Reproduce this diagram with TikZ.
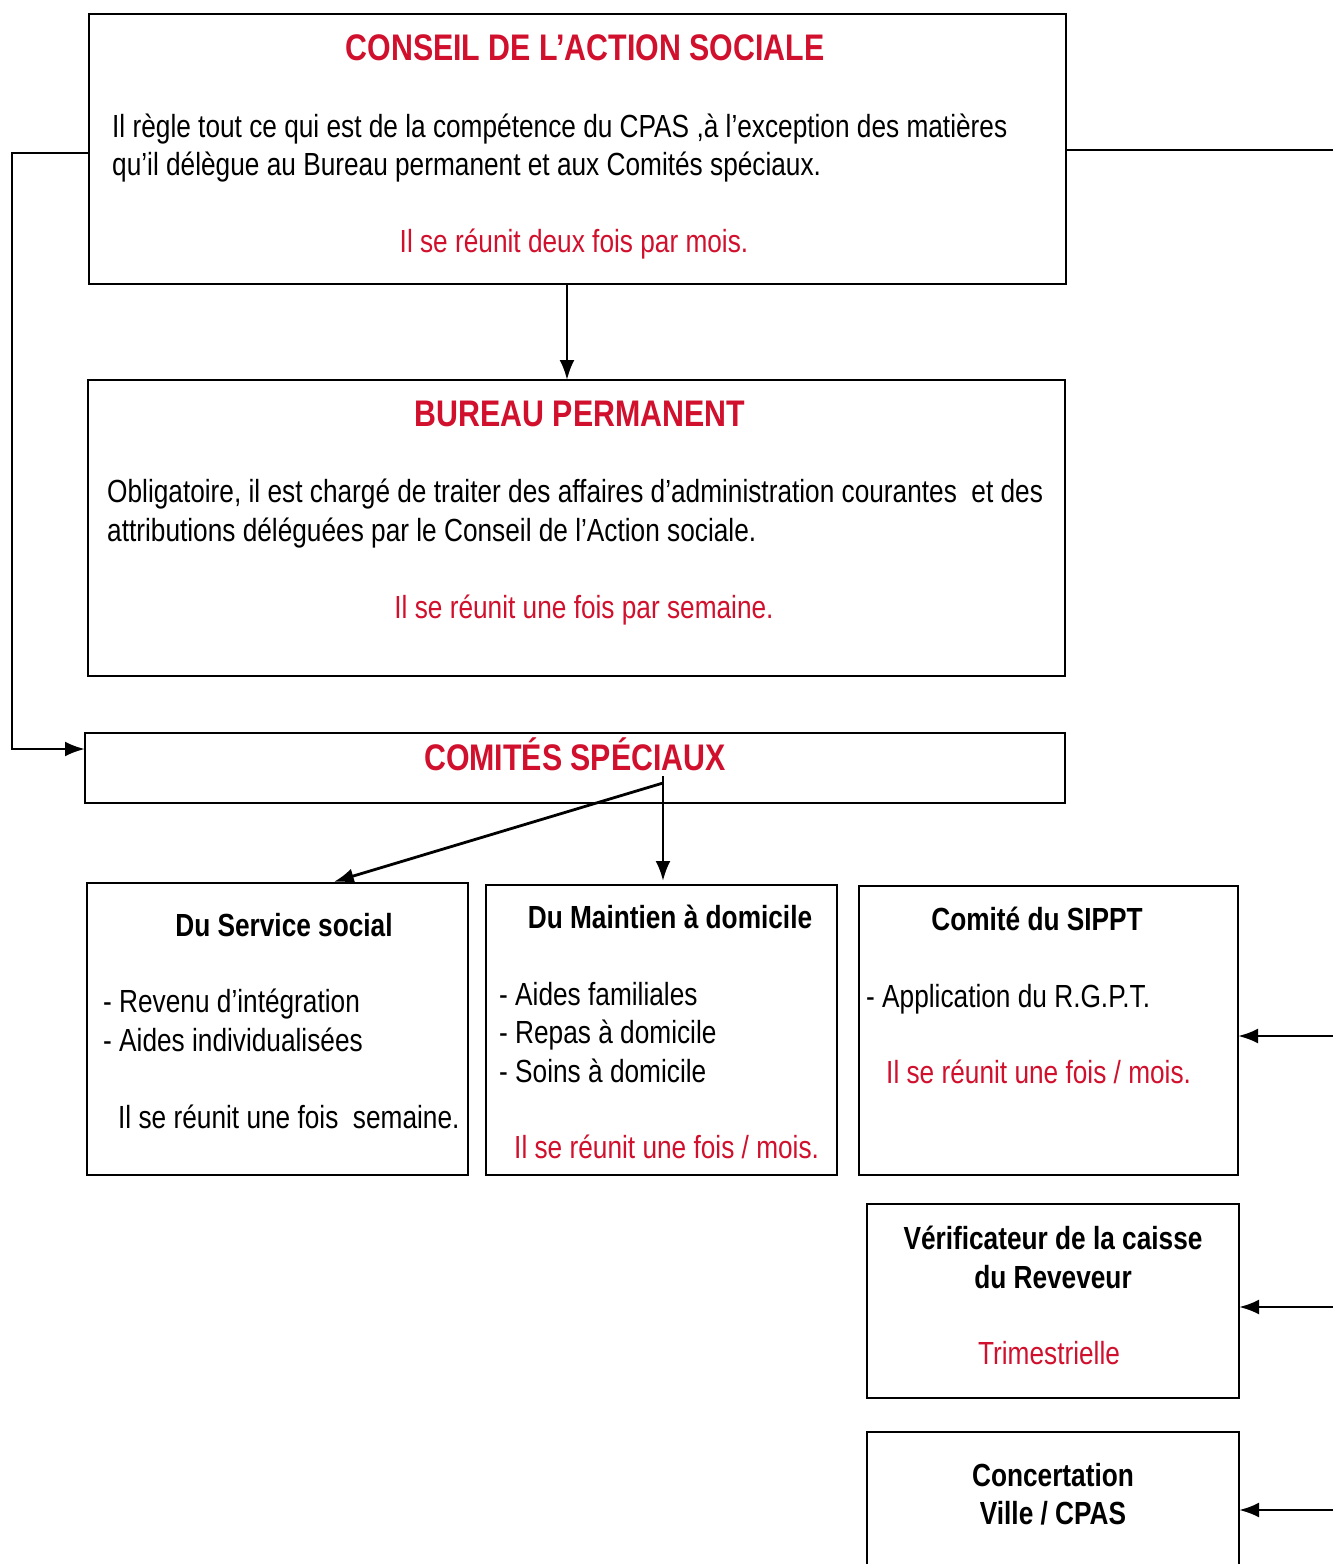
\documentclass[tikz,border=0pt]{standalone}
\usepackage{fontspec}
\setmainfont{Liberation Sans}[FakeStretch=0.82]
\usetikzlibrary{arrows.meta,calc}
\definecolor{tred}{RGB}{208,16,44}
\begin{document}
\begin{tikzpicture}[x=1pt,y=-1pt,
  box/.style={draw,line width=2.8pt,anchor=north west,inner sep=0pt,outer sep=0pt},
  conn/.style={line width=2.8pt,-{Latex[length=20pt,width=15pt]}},
  plain/.style={line width=2.8pt},
  ttl/.style={font=\fontsize{37}{44}\selectfont\bfseries,text=tred,inner sep=0pt,anchor=base},
  sub/.style={font=\fontsize{32}{38}\selectfont\bfseries,inner sep=0pt,anchor=base},
  txt/.style={font=\fontsize{32}{38}\selectfont,inner sep=0pt,anchor=base west},
  rtxt/.style={font=\fontsize{32}{38}\selectfont,text=tred,inner sep=0pt},
]
\useasboundingbox (0,0) rectangle (1333,1564);
\clip (0,0) rectangle (1333,1564);
% boxes
\node[box,minimum width=977pt,minimum height=270pt] (conseil) at (89,14) {};
\node[box,minimum width=977pt,minimum height=296pt] (bureau) at (88,380) {};
\node[box,minimum width=980pt,minimum height=70pt] (comites) at (85,733) {};
\node[box,minimum width=381pt,minimum height=292pt] (service) at (87,883) {};
\node[box,minimum width=351pt,minimum height=290pt] (maintien) at (486,885) {};
\node[box,minimum width=379pt,minimum height=289pt] (sippt) at (859,886) {};
\node[box,minimum width=372pt,minimum height=194pt] (verif) at (867,1204) {};
\node[box,minimum width=372pt,minimum height=160pt] (concert) at (867,1432) {};
% texts: conseil
\node[ttl] (t1) at (585,60) {CONSEIL DE L’ACTION SOCIALE};
\node[txt] (t1a) at (112,137) {Il règle tout ce qui est de la compétence du CPAS ,à l’exception des matières};
\node[txt] (t1b) at (112,175) {qu’il délègue au Bureau permanent et aux Comités spéciaux.};
\node[rtxt,anchor=base] (t1c) at (574,252) {Il se réunit deux fois par mois.};
% bureau
\node[ttl] (t2) at (580,426) {BUREAU PERMANENT};
\node[txt] (t2a) at (107,502) {Obligatoire, il est chargé de traiter des affaires d’administration courantes\ \ et des};
\node[txt] (t2b) at (107,541) {attributions déléguées par le Conseil de l’Action sociale.};
\node[rtxt,anchor=base] (t2c) at (584,618) {Il se réunit une fois par semaine.};
% comites
\node[ttl] (t3) at (575,770) {COMITÉS SPÉCIAUX};
% service
\node[sub] (t4) at (284,936) {Du Service social};
\node[txt] (t4a) at (103,1012) {- Revenu d’intégration};
\node[txt] (t4b) at (103,1051) {- Aides individualisées};
\node[txt] (t4c) at (118,1128) {Il se réunit une fois\ \ semaine.};
% maintien
\node[sub] (t5) at (670,928) {Du Maintien à domicile};
\node[txt] (t5a) at (499,1005) {- Aides familiales};
\node[txt] (t5b) at (499,1043) {- Repas à domicile};
\node[txt] (t5c) at (499,1082) {- Soins à domicile};
\node[rtxt,anchor=base west] (t5d) at (514,1158) {Il se réunit une fois / mois.};
% sippt
\node[sub] (t6) at (1037,930) {Comité du SIPPT};
\node[txt] (t6a) at (866,1007) {- Application du R.G.P.T.};
\node[rtxt,anchor=base west] (t6b) at (886,1083) {Il se réunit une fois / mois.};
% verif
\node[sub] (t7) at (1053,1249) {Vérificateur de la caisse};
\node[sub] (t7b) at (1053,1288) {du Reveveur};
\node[rtxt,anchor=base] (t7c) at (1049,1364) {Trimestrielle};
% concertation
\node[sub] (t8) at (1053,1486) {Concertation};
\node[sub] (t8b) at (1053,1524) {Ville / CPAS};
% connectors
\coordinate (xa) at (567,0);
\draw[conn] (conseil.south -| xa) -- (bureau.north -| xa);
\coordinate (lx) at (12,0);
\coordinate (ly0) at (0,153);
\coordinate (ly) at (0,749);
\draw[conn] (conseil.west |- ly0) -- (lx |- ly0) -- (lx |- ly) -- (comites.west |- ly);
\coordinate (redge) at (1333,150);
\draw[plain] (conseil.east |- redge) -- (redge);
\coordinate (r1) at (1333,1036);
\coordinate (r2) at (1333,1307);
\coordinate (r3) at (1333,1510);
\draw[conn] (r1) -- (sippt.east |- r1);
\draw[conn] (r2) -- (verif.east |- r2);
\draw[conn] (r3) -- (concert.east |- r3);
\coordinate (cs) at (663,776);
\coordinate (cd) at (663,783);
\coordinate (xb) at (330,0);
\draw[conn,shorten >=4pt] (cs) -- (maintien.north -| cs);
\draw[conn,shorten >=4pt] (cd) -- (service.north -| xb);
\end{tikzpicture}
\end{document}
